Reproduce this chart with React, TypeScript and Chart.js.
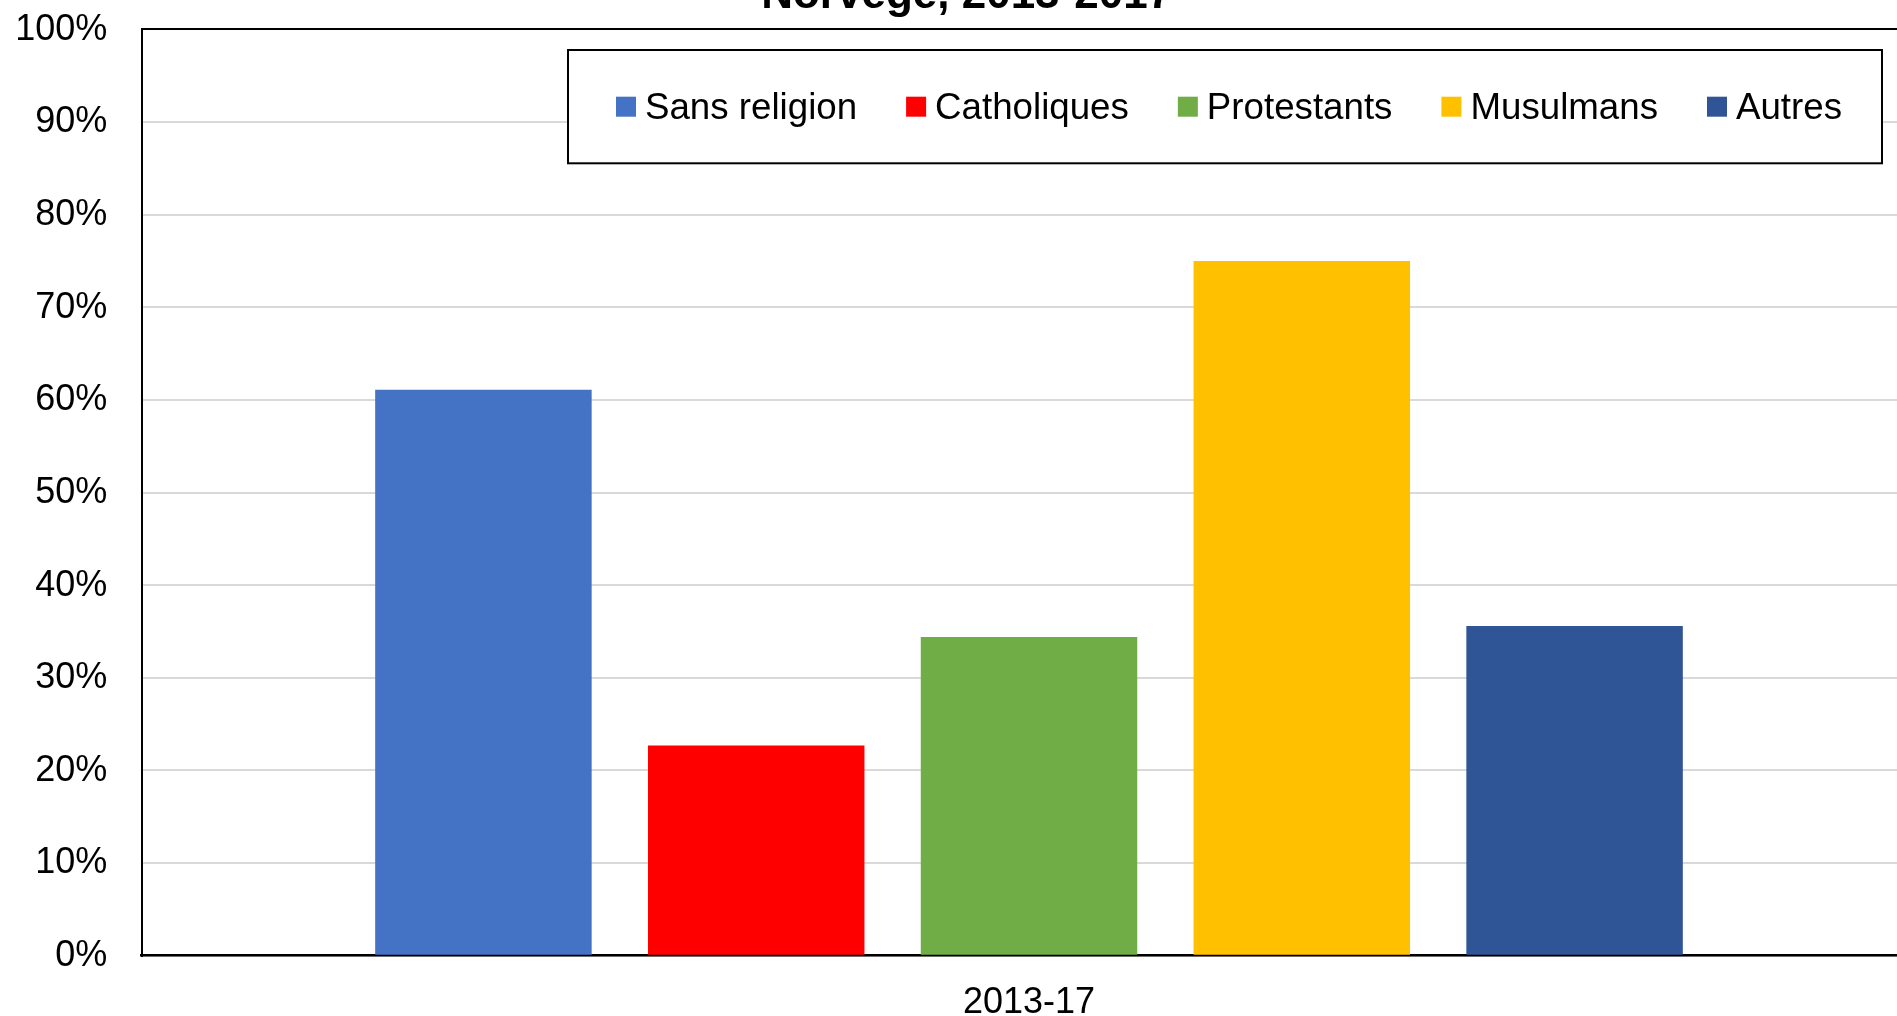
import React, { useEffect, useRef } from 'react';
import { Chart, registerables } from 'chart.js';

Chart.register(...registerables);

// ---- data ----
const TITLE = 'Norvège, 2013-2017';
const categories = ['2013-17'];
const seriesNames = ['Sans religion', 'Catholiques', 'Protestants', 'Musulmans', 'Autres'];
const sansReligion = [61.1];
const catholiques = [22.7];
const protestants = [34.4];
const musulmans = [75.0];
const autres = [35.6];
const seriesColors = ['#4472C4', '#FF0000', '#70AD47', '#FFC000', '#2F5597'];
const Y_MIN = 0;
const Y_MAX = 100;
const Y_STEP = 10;

const FONT = "'Liberation Sans', Arial, Helvetica, sans-serif";
const OFFSET_TOP = 40;
const CANVAS_W = 1940;
const CANVAS_H = 1056;
const PAD_LEFT = 17;

const legendBoxPlugin = {
  id: 'legendBox',
  afterDraw(chart: any) {
    const { ctx, chartArea } = chart;
    const left = chartArea.left + 426.3;
    const top = chartArea.top + 20.7;
    const right = 1882;
    const bottom = chartArea.top + 134;
    ctx.save();
    ctx.fillStyle = '#ffffff';
    ctx.fillRect(left, top, right - left, bottom - top);
    ctx.strokeStyle = '#000000';
    ctx.lineWidth = 2;
    ctx.strokeRect(left, top, right - left, bottom - top);
    ctx.font = `36.7px ${FONT}`;
    ctx.textBaseline = 'alphabetic';
    ctx.textAlign = 'left';
    let x = left + 48;
    chart.data.datasets.forEach((ds: any) => {
      ctx.fillStyle = ds.backgroundColor;
      ctx.fillRect(x, top + 46.7, 20, 20);
      ctx.fillStyle = '#000000';
      const tx = x + 29;
      ctx.fillText(ds.label, tx, top + 68.5);
      x = tx + ctx.measureText(ds.label).width + 49;
    });
    ctx.restore();
  },
};

export default function App() {
  const ref = useRef<HTMLCanvasElement | null>(null);

  useEffect(() => {
    if (!ref.current) return;
    const values = [sansReligion, catholiques, protestants, musulmans, autres];
    const chart = new Chart(ref.current, {
      type: 'bar',
      data: {
        labels: categories,
        datasets: seriesNames.map((name, i) => ({
          label: name,
          data: values[i],
          backgroundColor: seriesColors[i],
          borderWidth: 0,
          categoryPercentage: 0.7686,
          barPercentage: 0.7936,
        })),
      },
      options: {
        responsive: false,
        animation: false,
        devicePixelRatio: 1,
        layout: { padding: { left: PAD_LEFT, right: 23.7, top: 0, bottom: 0 } },
        plugins: {
          legend: { display: false },
          tooltip: { enabled: false },
          title: {
            display: true,
            text: TITLE,
            color: '#000000',
            font: { family: FONT, size: 44, weight: 'bold', lineHeight: 1.2 },
            padding: { top: 9.9, bottom: 6.6 },
          },
        },
        scales: {
          x: {
            grid: { display: false, drawTicks: false, tickLength: 0 },
            border: { display: true, color: '#000000', width: 2.5 },
            ticks: {
              color: '#000000',
              font: { family: FONT, size: 36 },
              padding: 25.5,
              maxRotation: 0,
            },
            afterFit: (scale: any) => {
              scale.height = CANVAS_H - (OFFSET_TOP + 955.7);
            },
          },
          y: {
            min: Y_MIN,
            max: Y_MAX,
            grid: {
              drawTicks: false,
              tickLength: 0,
              lineWidth: 2,
              color: (c: any) => (c.tick && c.tick.value === Y_MAX ? '#000000' : '#D9D9D9'),
            },
            border: { display: true, color: '#000000', width: 2 },
            ticks: {
              stepSize: Y_STEP,
              color: '#000000',
              font: { family: FONT, size: 36 },
              padding: 34.4,
              labelOffset: 0.5,
              callback: (v: any) => `${v}%`,
            },
            afterFit: (scale: any) => {
              scale.width = 141.7 - PAD_LEFT;
            },
          },
        },
      },
      plugins: [legendBoxPlugin],
    });
    return () => chart.destroy();
  }, []);

  return (
    <div
      style={{
        position: 'fixed',
        left: 0,
        top: 0,
        width: 1897,
        height: 1016,
        overflow: 'hidden',
        background: '#ffffff',
      }}
    >
      <canvas
        ref={ref}
        width={CANVAS_W}
        height={CANVAS_H}
        style={{ position: 'absolute', left: 0, top: -OFFSET_TOP, display: 'block' }}
      />
    </div>
  );
}
